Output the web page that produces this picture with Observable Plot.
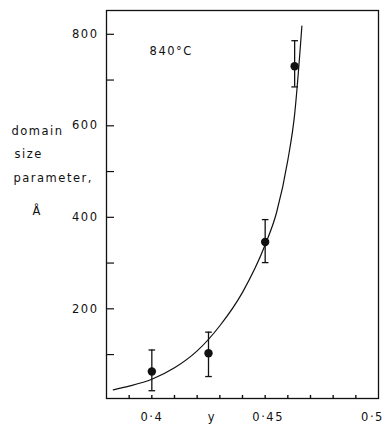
<!DOCTYPE html>
<html>
<head>
<meta charset="utf-8">
<script src="https://cdn.jsdelivr.net/npm/d3@7"></script>
<script src="https://cdn.jsdelivr.net/npm/@observablehq/plot@0.6"></script>
<style>
  html, body { margin: 0; padding: 0; background: #fff; }
</style>
</head>
<body>
<div id="chart"></div>
<script>
// measured points with error bars
const pointX = [0.400, 0.425, 0.450, 0.463];
const pointY = [63, 103, 346, 730];
const errLo  = [21, 52, 301, 685];
const errHi  = [110, 149, 395, 786];

// fitted curve
const curveX = [0.383, 0.390, 0.400, 0.410, 0.420, 0.430, 0.440, 0.450, 0.455, 0.460, 0.463, 0.4662];
const curveY = [23, 31, 46, 71, 108, 163, 236, 340, 410, 525, 625, 818];

// axes
const yTickAll = [100, 200, 300, 400, 500, 600, 700, 800];
const yTickLabeled = [200, 400, 600, 800];
const xTickAll = [0.39, 0.40, 0.41, 0.42, 0.43, 0.44, 0.45, 0.46, 0.47, 0.48, 0.49];
const xTickLabeled = [0.40, 0.45, 0.50];
const xTickText = ["0·4", "0·45", "0·5"];
const xTickShift = [0, 3, -6];

// annotations
const tempLabel = "840°C";
const xAxisLabel = "y";
const yLabelLines = ["domain", "size", "parameter,", "Å"];
const yLabelY = [579, 529, 477, 405];
const yLabelDx = [-95, -92, -93, -74];

const points = pointX.map((x, i) => ({x, y: pointY[i], lo: errLo[i], hi: errHi[i]}));
const curve = curveX.map((x, i) => ({x, y: curveY[i]}));

const capSymbol = {
  draw(context, size) {
    const r = Math.sqrt(size / Math.PI);
    context.moveTo(-r, 0);
    context.lineTo(r, 0);
  }
};
const tickUpSymbol = {
  draw(context, size) {
    const r = Math.sqrt(size / Math.PI);
    context.moveTo(0, 0);
    context.lineTo(0, -2 * r);
  }
};

const ink = "#111";

const yLabelMarks = yLabelLines.map((t, i) =>
  Plot.text([t], {y: yLabelY[i], frameAnchor: "left", dx: yLabelDx[i], text: d => d, textAnchor: "start", lineAnchor: "bottom", fill: ink})
);

const xLabelMarks = xTickLabeled.map((v, i) =>
  Plot.axisX({anchor: "bottom", ticks: [v], tickSize: 0, tickPadding: 14, dx: xTickShift[i], tickFormat: () => xTickText[i], fill: ink, label: null})
);

const chart = Plot.plot({
  width: 387,
  height: 424,
  marginLeft: 106,
  marginRight: 9,
  marginTop: 10,
  marginBottom: 26,
  x: {domain: [0.38, 0.5]},
  y: {domain: [4, 852]},
  style: {fontFamily: "DejaVu Sans", fontSize: "11.5px", letterSpacing: "1.5px", color: ink, background: "#fff"},
  marks: [
    Plot.frame({stroke: ink, strokeWidth: 1.3}),
    Plot.axisY({anchor: "right", frameAnchor: "left", ticks: yTickAll, tickSize: 7, text: null, stroke: ink, strokeWidth: 1.2, label: null}),
    Plot.axisY({anchor: "left", ticks: yTickLabeled, tickSize: 0, tickPadding: 8, tickFormat: d => String(d), fill: ink, label: null}),
    Plot.dot(xTickAll, {x: d => d, frameAnchor: "bottom", symbol: tickUpSymbol, r: 1.8, fill: "none", stroke: ink, strokeWidth: 1.4}),
    ...xLabelMarks,
    Plot.line(curve, {x: "x", y: "y", curve: "monotone-x", stroke: ink, strokeWidth: 1.2}),
    Plot.ruleX(points, {x: "x", y1: "lo", y2: "hi", stroke: ink, strokeWidth: 1.3}),
    Plot.dot(points, {x: "x", y: "lo", symbol: capSymbol, r: 3.3, stroke: ink, strokeWidth: 1.3}),
    Plot.dot(points, {x: "x", y: "hi", symbol: capSymbol, r: 3.3, stroke: ink, strokeWidth: 1.3}),
    Plot.dot(points, {x: "x", y: "y", r: 4.2, fill: ink, stroke: null}),
    Plot.text([tempLabel], {x: 0.399, y: 762, text: d => d, textAnchor: "start", fill: ink}),
    Plot.text([xAxisLabel], {x: 0.4265, frameAnchor: "bottom", dy: 22, lineAnchor: "bottom", text: d => d, fill: ink}),
    ...yLabelMarks
  ]
});
document.getElementById("chart").appendChild(chart);
</script>
</body>
</html>
